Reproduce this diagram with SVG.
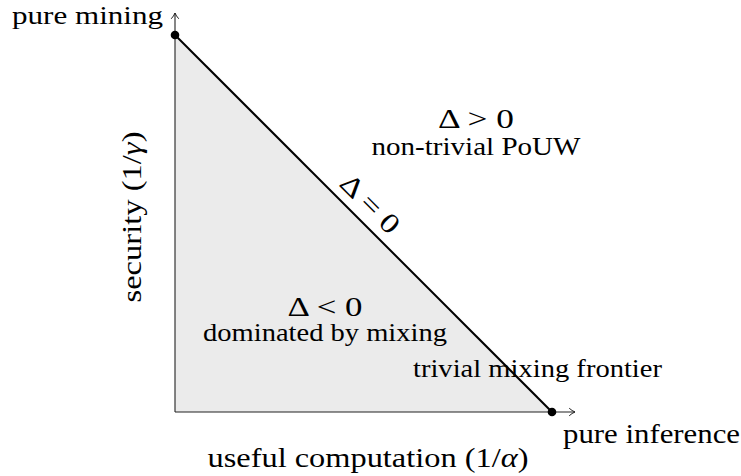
<svg xmlns="http://www.w3.org/2000/svg" width="741" height="476" viewBox="0 0 741 476">
<style>
text{font-family:"Liberation Serif","Times New Roman",serif;fill:#000}
.m{font-size:28px}
.s{font-size:24.5px}
.ax{stroke:#222;stroke-width:1.1;fill:none}
.tip{stroke:#222;stroke-width:1;fill:none;stroke-linecap:round}
</style>
<rect width="741" height="476" fill="#fff"/>
<g id="region">
<polygon points="175,35 175,412 552,412" fill="#ebebeb"/>
</g>
<g id="axes">
<line class="ax" x1="175" y1="412" x2="175" y2="13"/>
<path class="tip" d="M171.5,18.5 Q173.8,16 175,13 Q176.2,16 178.5,18.5"/>
<line class="ax" x1="175" y1="412" x2="575" y2="412"/>
<path class="tip" d="M569.5,408.5 Q572,410.8 575,412 Q572,413.2 569.5,415.5"/>
</g>
<g id="frontier">
<line x1="175" y1="35" x2="552" y2="412" stroke="#000" stroke-width="2"/>
</g>
<g id="pure-mining">
<circle cx="175" cy="35" r="4.3" fill="#000"/>
<text x="12" y="24" font-size="25" textLength="151" lengthAdjust="spacingAndGlyphs">pure mining</text>
</g>
<g id="pure-inference">
<circle cx="552" cy="412" r="4.3" fill="#000"/>
<text class="m" x="563" y="443" textLength="177" lengthAdjust="spacingAndGlyphs">pure inference</text>
</g>
<g id="y-label">
<text class="m" transform="translate(141,217) rotate(-90)" text-anchor="middle" textLength="171" lengthAdjust="spacingAndGlyphs">security (1/<tspan font-style="italic">γ</tspan>)</text>
</g>
<g id="x-label">
<text class="m" x="368" y="467" text-anchor="middle" textLength="321" lengthAdjust="spacingAndGlyphs">useful computation (1/<tspan font-style="italic">α</tspan>)</text>
</g>
<g id="delta-pos">
<text class="m" x="476" y="128" text-anchor="middle" textLength="76" lengthAdjust="spacingAndGlyphs">Δ &gt; 0</text>
<text class="s" x="476" y="155" text-anchor="middle" textLength="209" lengthAdjust="spacingAndGlyphs">non-trivial PoUW</text>
</g>
<g id="delta-zero">
<text class="m" transform="translate(370,204) rotate(45)" x="0" y="9" text-anchor="middle" textLength="72" lengthAdjust="spacingAndGlyphs">Δ = 0</text>
</g>
<g id="delta-neg">
<text class="m" x="325" y="316" text-anchor="middle" textLength="75" lengthAdjust="spacingAndGlyphs">Δ &lt; 0</text>
<text class="s" x="325" y="341" text-anchor="middle" textLength="244" lengthAdjust="spacingAndGlyphs">dominated by mixing</text>
</g>
<g id="trivial-label">
<text class="s" x="413" y="377" textLength="249" lengthAdjust="spacingAndGlyphs">trivial mixing frontier</text>
</g>
</svg>
